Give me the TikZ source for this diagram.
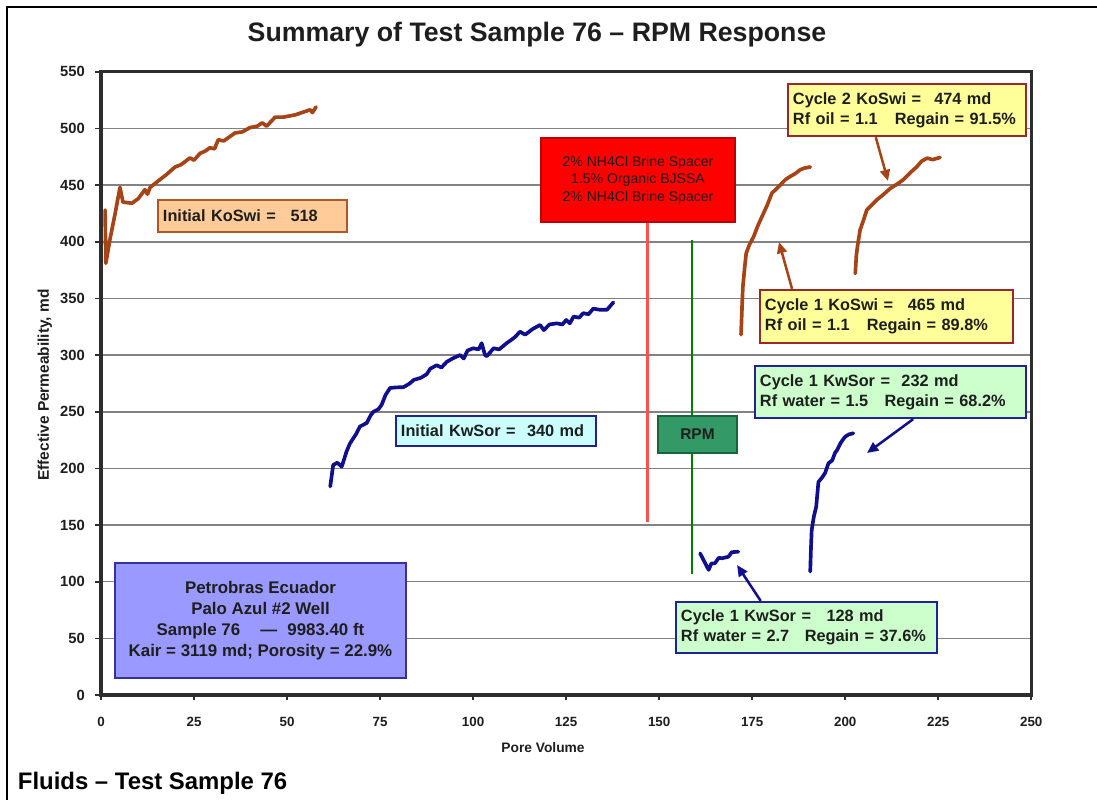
\documentclass[tikz,border=0pt]{standalone}
\usepackage{fontspec}
\setmainfont{Liberation Sans}
\usetikzlibrary{arrows.meta,calc}

\definecolor{kobrown}{RGB}{165,68,22}
\definecolor{kwnavy}{RGB}{16,16,140}
\definecolor{gridgray}{RGB}{130,130,130}
\definecolor{framegray}{RGB}{45,45,45}
\definecolor{peach}{RGB}{255,204,153}
\definecolor{peachedge}{RGB}{178,88,30}
\definecolor{paleyellow}{RGB}{255,255,153}
\definecolor{maroonedge}{RGB}{153,40,40}
\definecolor{palegreen}{RGB}{204,255,204}
\definecolor{palecyan}{RGB}{204,255,255}
\definecolor{navyedge}{RGB}{30,35,150}
\definecolor{lavender}{RGB}{153,153,255}
\definecolor{lavedge}{RGB}{51,51,153}
\definecolor{spacerred}{RGB}{255,0,0}
\definecolor{spaceredge}{RGB}{190,0,0}
\definecolor{rpmgreen}{RGB}{51,153,102}
\definecolor{rpmedge}{RGB}{25,100,60}
\definecolor{lightred}{RGB}{255,80,80}
\definecolor{linegreen}{RGB}{0,128,0}
\definecolor{inkdark}{RGB}{30,30,30}

% one unbreakable left-aligned line inside a fixed-width label
\newcommand{\tagline}[1]{\makebox[\linewidth][l]{#1}}

\tikzset{
  tag/.style={draw, rectangle, line width=1.6pt, inner xsep=0.125cm, inner ysep=0pt,
    text=inkdark, font=\bfseries\fontsize{11.6}{14.2}\selectfont, align=left},
  oilbox/.style={tag, fill=paleyellow, draw=maroonedge},
  waterbox/.style={tag, fill=palegreen, draw=navyedge},
  kocurve/.style={draw=kobrown, line width=2.6pt, line join=round, line cap=round},
  kwcurve/.style={draw=kwnavy, line width=2.6pt, line join=round, line cap=round},
  oilarrow/.style={draw=kobrown, line width=1.8pt, -{Triangle[length=8pt,width=7pt]}},
  waterarrow/.style={draw=kwnavy, line width=1.8pt, -{Triangle[length=8pt,width=7pt]}},
  gridline/.style={draw=gridgray, line width=1.1pt},
  ylab/.style={anchor=east, text=inkdark, font=\bfseries\fontsize{10.5}{12}\selectfont},
  xlab/.style={text=inkdark, font=\bfseries\fontsize{9.5}{11}\selectfont},
}

\begin{document}
\begin{tikzpicture}[x=0.025cm, y=-0.025cm]
\useasboundingbox (0,0) rectangle (1097,800);
\fill[white] (0,0) rectangle (1097,800);

% page frame
\draw[black, line width=1.5pt] (7,800) -- (7,7) -- (1097,7);

% titles
\node[text=inkdark, font=\bfseries\fontsize{19}{22}\selectfont] (title) at (537,35)
  {Summary of Test Sample 76 -- RPM Response};
\node[anchor=west, text=black, font=\bfseries\fontsize{17}{20}\selectfont] (caption) at (13,783)
  {Fluids -- Test Sample 76};
\node[rotate=90, text=inkdark, font=\bfseries\fontsize{11}{13}\selectfont] (ytitle) at (45,385)
  {Effective Permeability, md};
\node[text=inkdark, font=\bfseries\fontsize{9.8}{12}\selectfont] (xtitle) at (543,748)
  {Pore Volume};

% data area: x = pore volume, y = permeability (md)
\begin{scope}[shift={(101,695)}, x=0.093cm, y=0.0283175cm]
  \foreach \v in {50,100,...,500}
    \draw[gridline] (0,\v) -- (250,\v);
  \foreach \v in {0,50,...,550} {
    \draw[framegray, line width=1.2pt] (0,\v) -- (-1.7,\v);
    \node[ylab] at (-3,\v) {\v};
  }
  \foreach \u in {0,25,...,250} {
    \draw[framegray, line width=1.2pt] (\u,0) -- (\u,-4.5);
    \node[xlab] at (\u,-24) {\u};
  }
  \draw[framegray, line width=2.2pt] (0,0) rectangle (250,550);

  % treatment markers
  \coordinate (redfoot) at (146.8,152.7);
  \coordinate (greentop) at (158.9,401.7);
  \coordinate (greenfoot) at (158.9,106.8);
  \draw[linegreen, line width=1.5pt] (greentop) -- (greenfoot);

  % initial oil permeability
  \draw[kocurve] plot coordinates {(1.1,428) (1.3,381) (2.4,402) (3.8,425) (5.1,448)
    (5.9,435) (8.3,434) (10,438) (11.8,446) (12.5,442) (13.2,448) (15.9,455) (17.5,459)
    (19.9,466) (21.5,468) (23.9,474) (25,472) (26.6,478) (28,480) (29.3,483) (30.5,482)
    (31.5,490) (33,489) (36,496) (38,497) (40,500.7) (42,502) (43.3,505) (44.5,502)
    (46.8,510) (49,510) (52.2,512) (54,514) (56.2,516.5) (56.8,514) (57.8,519)};

  % initial water permeability
  \draw[kwcurve] plot coordinates {(61.6,184) (62.4,203) (63.5,205) (64.7,201.5) (66,215)
    (66.9,222) (68.5,230) (69.6,237) (71.4,240) (72.5,247) (73.2,250) (74.5,252) (75.4,256)
    (76.5,265) (77.7,271) (79.5,271.5) (81.3,271.7) (83,275) (84,278) (86,280) (87.5,283)
    (88.5,288) (90.2,291) (91.5,289) (92.9,294) (94.5,297) (96.5,300) (97.5,297) (98.5,304)
    (100,306) (101.5,305) (102.3,310.5) (103.2,300) (103.7,299) (105.5,306) (107,305)
    (109,310.5) (110.5,314) (111.3,316) (112.6,320.7) (114,318) (116,323) (118,326.6)
    (119,322) (120.5,327) (122.5,328) (124,327) (125,331) (126,328) (127,334) (128.5,333)
    (129.6,337) (131,336) (132.3,341) (134,340) (136,340) (137.7,346.5)};

  % cycle 1 water
  \draw[kwcurve] plot coordinates {(161,125) (163.3,110.4) (164,116) (165,116.3) (166,121)
    (166.9,120.7) (168.6,122) (169.5,126) (171.3,126.5)};

  % cycle 1 oil
  \draw[kocurve] plot coordinates {(172,318) (172.3,345) (172.5,360.5) (173,378) (173.4,390)
    (174.2,397) (175.4,404.6) (176.5,414) (177.6,422) (179,432) (180.3,443) (181.3,446)
    (182.5,450) (184,455) (185.2,457.6) (186.5,460) (187.9,463.5) (189,465) (190.6,466)};

  % cycle 1 water, second flood
  \draw[kwcurve] plot coordinates {(190.6,109) (190.8,130) (191,146) (191.6,158) (192.2,166)
    (192.8,188) (193.8,192) (194.6,196) (195.5,204.5) (196.5,207) (197.3,214) (197.8,216)
    (198.7,222) (199.3,225) (200,228) (201,230) (202.2,231)};

  % cycle 2 oil
  \draw[kocurve] plot coordinates {(202.7,372) (203,388) (203.3,396) (204,410.5) (204.8,418)
    (205.8,428) (207,432) (208.5,437) (210,441) (212.1,447) (214,451) (215.7,455)
    (217.5,461) (219.3,466.4) (220.5,471) (222,473.8) (223.5,472.5) (225.5,474.4)};
\end{scope}

% annotation boxes
\node[tag, fill=peach, draw=peachedge, text width=4.475cm, minimum height=0.8cm] (koi) at (252.5,216)
  {\tagline{Initial KoSwi =\hspace{0.9em}518}};

\node[draw=spaceredge, fill=spacerred, line width=1.2pt, minimum width=4.85cm, minimum height=2.1cm,
  align=center, text=inkdark, font=\fontsize{10}{12.4}\selectfont] (spacer) at (638,180)
  {2\% NH4Cl Brine Spacer\\1.5\% Organic BJSSA\\2\% NH4Cl Brine Spacer};
\draw[lightred, line width=2.2pt] (spacer.south -| redfoot) -- (redfoot);

\node[draw=rpmedge, fill=rpmgreen, line width=1.4pt, minimum width=1.975cm, minimum height=0.925cm,
  text=inkdark, font=\bfseries\fontsize{11}{13}\selectfont] (rpm) at (697.5,434.5) {RPM};

\node[oilbox, text width=5.7cm, minimum height=1.3cm] (c2o) at (907,110)
  {\tagline{Cycle 2 KoSwi =\hspace{0.8em}474 md}\\\tagline{Rf oil = 1.1\hspace{1.05em}Regain = 91.5\%}};
\node[oilbox, text width=6.075cm, minimum height=1.325cm] (c1o) at (886.5,316.5)
  {\tagline{Cycle 1 KoSwi =\hspace{0.9em}465 md}\\\tagline{Rf oil = 1.1\hspace{1.05em}Regain = 89.8\%}};
\node[waterbox, text width=6.525cm, minimum height=1.3cm] (c1w) at (890.5,392)
  {\tagline{Cycle 1 KwSor =\hspace{0.7em}232 md}\\\tagline{Rf water = 1.5\hspace{1em}Regain = 68.2\%}};
\node[waterbox, text width=6.275cm, minimum height=1.275cm] (c1wl) at (806.5,627.5)
  {\tagline{Cycle 1 KwSor =\hspace{0.95em}128 md}\\\tagline{Rf water = 2.7\hspace{0.95em}Regain = 37.6\%}};
\node[tag, fill=palecyan, draw=navyedge, text width=4.75cm, minimum height=0.75cm] (kwi) at (496,431)
  {\tagline{Initial KwSor =\hspace{0.7em}340 md}};

\node[draw=lavedge, fill=lavender, line width=1.6pt, minimum width=7.275cm, minimum height=2.875cm,
  align=center, text=inkdark, font=\bfseries\fontsize{12}{15}\selectfont] (well) at (260.5,620.5)
  {Petrobras Ecuador\\Palo Azul \#2 Well\\Sample 76\hspace{1.2em}—\hspace{0.6em}9983.40 ft\\Kair = 3119 md; Porosity = 22.9\%};

% pointers from boxes to curves
\coordinate (c2tip) at (888,181);
\coordinate (c1otip) at (779,242);
\coordinate (c1wtip) at (867,453);
\coordinate (c1wltip) at (737,565);
\draw[oilarrow] ($(c2o.south west)!0.37!(c2o.south east)$) -- (c2tip);
\draw[oilarrow] ($(c1o.north west)!0.13!(c1o.north east)$) -- (c1otip);
\draw[waterarrow] ($(c1w.south west)!0.583!(c1w.south east)$) -- (c1wtip);
\draw[waterarrow] ($(c1wl.north west)!0.326!(c1wl.north east)$) -- (c1wltip);
\end{tikzpicture}
\end{document}
